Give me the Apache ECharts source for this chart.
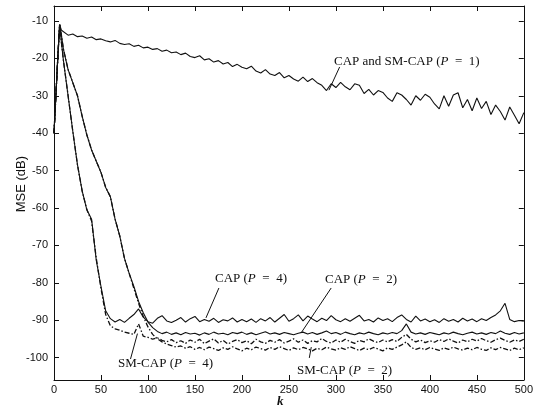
<!DOCTYPE html>
<html>
<head>
<meta charset="utf-8">
<script src="https://cdn.jsdelivr.net/npm/echarts@6/dist/echarts.min.js"></script>
<style>
html,body{margin:0;padding:0;background:#fff;}
#c{width:536px;height:408px;}
</style>
</head>
<body>
<div id="c"></div>
<script>
// Iteration index k (sample positions)
const kValues = [0,2,4,6,8,
10,15,20,25,30,35,40,45,50,55,60,65,70,75,80,85,90,95,100,
105,110,115,120,125,130,135,140,145,150,155,160,165,170,175,180,185,190,195,200,
205,210,215,220,225,230,235,240,245,250,255,260,265,270,275,280,285,290,295,300,
305,310,315,320,325,330,335,340,345,350,355,360,365,370,375,380,385,390,395,400,
405,410,415,420,425,430,435,440,445,450,455,460,465,470,475,480,485,490,495,500];

// CAP and SM-CAP (P = 1)
const mseP1 = [-40,-30,-20,-11,-12.5,
-13,-13.8,-13.5,-14.2,-14,-14.6,-14.3,-15,-14.8,-15.3,-15.6,-15.2,-16,-16.3,-16.1,-16.8,-16.5,-17.2,-17,
-17.6,-17.4,-18.1,-17.8,-18.5,-18.3,-19,-18.6,-19.5,-19.8,-19.3,-20.4,-20.1,-21,-20.6,-21.5,-21.1,-22.2,-21.6,-22.4,
-22.8,-22.1,-23.4,-23.9,-23,-24.2,-24.6,-23.8,-25.2,-24.6,-25.5,-26.1,-25,-26.2,-25.4,-26.5,-27.2,-28.6,-26.8,-27.8,
-26.4,-27.6,-28.4,-26.8,-27.2,-29.4,-28.3,-29.8,-28.6,-29.1,-30.6,-31.5,-29.2,-29.8,-31,-32.5,-30,-31.2,-29.6,-30.4,
-32.2,-33.5,-30,-32.8,-29.8,-29.2,-33.2,-31,-34,-30.6,-33.4,-31.5,-35,-32.5,-34.2,-36.5,-33,-35.2,-37.5,-34.5];

// CAP (P = 4)
const mseCapP4 = [-40,-30,-20,-11,-16,
-20.5,-30,-39.5,-48.5,-55.5,-60.5,-63,-74,-81,-87.5,-89.6,-90.5,-89.8,-90.6,-89.5,-88.5,-87,-89.2,-90.4,
-90.8,-89.5,-88.8,-90.2,-90.6,-90,-89.3,-90.5,-89.6,-89,-90.4,-89.8,-90.3,-89.5,-90.6,-89.9,-90.2,-89.4,-90.5,-89.8,
-90.4,-89.7,-90.6,-89.6,-90.2,-89.3,-90.5,-89.5,-88.5,-90.3,-89.6,-88.6,-90.2,-88.9,-89.7,-90.4,-89.5,-90.1,-88.8,-89.9,
-90.4,-89.6,-90.3,-89.5,-88.7,-90.2,-89.8,-90.5,-89.4,-90.1,-89.6,-90.4,-89.3,-88.6,-89.8,-90.5,-88.9,-90.2,-89.7,-90.4,
-89.9,-90.6,-89.6,-90.3,-89.8,-90.5,-89.5,-90.2,-89.7,-90.4,-89.6,-90.1,-89.3,-88.6,-87.5,-85.5,-89.8,-90.4,-90.1,-90.3];

// SM-CAP (P = 4)
const mseSmP4 = [-40,-30,-20,-11,-16,
-20.5,-30,-39.5,-48.5,-55.5,-60.5,-63.5,-73.5,-81.5,-88.5,-91.5,-92.3,-92.7,-93.2,-93.5,-93.8,-91,-94.3,-94.6,
-95.1,-94.7,-95.4,-95.8,-95.2,-96,-95.5,-96.2,-95.3,-95.9,-95.1,-96.3,-95.6,-95,-96.1,-95.4,-96.4,-95.7,-95.2,-96,
-95.5,-96.3,-95.1,-95.8,-96.2,-95.4,-95.9,-95.2,-96.1,-95.6,-95,-95.9,-95.3,-96.2,-95.5,-95.8,-94.9,-95.7,-96.1,-95.3,
-95.9,-95.1,-95.7,-96.2,-95.4,-95.8,-95,-95.6,-96,-95.3,-95.8,-95.2,-95.7,-94.6,-93.8,-95.1,-95.8,-95.3,-96,-95.5,
-95.9,-95.2,-95.7,-95,-95.6,-96.1,-95.3,-95.8,-95.1,-95.6,-94.9,-95.5,-95.9,-95.2,-94.8,-95.4,-95.9,-95.3,-95.7,-95.1];

// CAP (P = 2)
const mseCapP2 = [-40,-30,-20,-11,-14,
-17.5,-23,-26.5,-30,-35.5,-40.5,-44.5,-47.5,-50.5,-54.5,-57,-63,-67.5,-73.5,-77.5,-81,-85,-88,-90.5,
-92,-93,-93.6,-93.2,-93.8,-93.4,-93.9,-93.3,-93.7,-93.5,-94,-93.4,-93.8,-93.2,-93.7,-93.5,-93.9,-93.3,-93.6,-93.2,
-93.8,-93.4,-93.9,-93.5,-93.1,-93.7,-93.4,-93.8,-93.3,-93.6,-93.9,-93.5,-93.2,-93.7,-93.3,-93.8,-93.4,-92.9,-93.6,-93.3,
-93.8,-93.2,-93.6,-93.9,-93.4,-93.7,-93.2,-93.6,-93.9,-93.4,-93.7,-93.3,-93.6,-92.8,-91,-93.2,-93.7,-93.4,-93.8,-93.3,
-93.6,-93.9,-93.4,-93.7,-93.2,-93.6,-93.9,-93.5,-93.2,-93.7,-93.4,-93.8,-93.3,-93.6,-92.9,-93.5,-93.8,-93.3,-93.7,-93.4];

// SM-CAP (P = 2)
const mseSmP2 = [-40,-30,-20,-11,-14,
-17.5,-23,-26.5,-30,-35.5,-40.5,-44.5,-47.5,-50.5,-54.5,-57,-63,-67.5,-73.5,-77.5,-81.5,-85.5,-89,-91.8,
-93.8,-95,-95.8,-96.4,-96.8,-97.2,-96.9,-97.5,-97.1,-97.8,-97.3,-97.9,-97.2,-97.6,-98.1,-97.4,-97.8,-97.1,-97.7,-98.2,
-97.5,-97.9,-97.2,-97.6,-98,-97.3,-97.8,-97.1,-97.6,-98.1,-97.4,-97.9,-97.3,-97.7,-98.2,-97.5,-97.9,-97.2,-97.7,-98,
-97.4,-97.8,-97.1,-97.6,-98.1,-97.5,-97.9,-97.3,-97.7,-98.2,-97.4,-97.8,-97.2,-96.6,-95.8,-97.3,-97.8,-97.4,-97.9,-97.3,
-97.7,-98.1,-97.4,-97.8,-97.2,-97.7,-98,-97.5,-97.9,-97.3,-97.8,-98.1,-97.4,-97.9,-97.3,-97.7,-98.1,-97.5,-97.9,-97.4];

// Axis ticks
const xTicks = [0,50,100,150,200,250,300,350,400,450,500];
const yTicks = [-100,-90,-80,-70,-60,-50,-40,-30,-20,-10];

// Annotation leader lines in data coordinates [k, dB] -> [k, dB]
const leaders = [
  [[304,-22.3],[292.6,-28.5]],
  [[175.5,-81.4],[161.7,-89.4]],
  [[295,-81.4],[263,-93.4]],
  [[81.4,-100.4],[88.8,-93.6]],
  [[271.7,-100.1],[273.8,-97.2]]
];

function pairs(vals){ return kValues.map((k,i)=>[k, vals[i]]); }

const chart = echarts.init(document.getElementById('c'), null, {renderer:'canvas'});
const sans = '"Liberation Sans", Arial, sans-serif';
const serif = '"Liberation Serif", "Times New Roman", serif';
const black = '#111';

function lineSeries(name, vals, dash, w){
  return {
    name, type:'line', data:pairs(vals), showSymbol:false, symbol:'none',
    lineStyle:{color:black, width:w, type:dash},
    animation:false, z: dash==='solid'?3:2
  };
}

const series = [
  lineSeries('SM-CAP (P = 2)', mseSmP2, [5,2,1.5,2], 1.3),
  lineSeries('SM-CAP (P = 4)', mseSmP4, [5,2,1.5,2], 1.3),
  lineSeries('CAP (P = 2)', mseCapP2, 'solid', 1.1),
  lineSeries('CAP (P = 4)', mseCapP4, 'solid', 1.1),
  lineSeries('CAP and SM-CAP (P = 1)', mseP1, 'solid', 1.1)
];
series[4].markLine = {
  silent:true, symbol:['none','none'], animation:false,
  lineStyle:{color:black, width:1, type:'solid'}, label:{show:false},
  data: leaders.map(l=>[{coord:l[0]},{coord:l[1]}])
};

const tickSet = new Set(yTicks);
function yFmt(v){ return tickSet.has(Math.round(v*1000)/1000) ? String(v) : ''; }

const axisCommon = {
  axisLine:{show:true, onZero:false, lineStyle:{color:black, width:1}},
  axisTick:{show:true, inside:true, length:5, lineStyle:{color:black, width:1}},
  splitLine:{show:false}
};

function richTxt(pre, post){ return pre + '{i|P}' + post; }
const rich = {
  i:{fontStyle:'italic', fontFamily:serif, fontSize:13, fill:black}
};
function annot(left, top, pre, post){
  return {type:'text', left, top, silent:true,
    style:{text:richTxt(pre,post), fontFamily:serif, fontSize:13, fill:black, rich}};
}
const EQ = '\u2002=\u2002';

chart.setOption({
  animation:false,
  backgroundColor:'#fff',
  grid:{left:54, right:9, top:6, bottom:28, containLabel:false},
  xAxis:[
    Object.assign({type:'value', position:'bottom', min:0, max:500, interval:50,
      axisLabel:{show:true, margin:4, fontFamily:sans, fontSize:11, color:black,
        customValues: xTicks}}, axisCommon),
    Object.assign({type:'value', position:'top', min:0, max:500, interval:50,
      axisLabel:{show:false}}, axisCommon)
  ],
  yAxis:[
    Object.assign({type:'value', position:'left', min:-106, max:-6, splitNumber:10,
      axisLabel:{show:true, margin:6, fontFamily:sans, fontSize:11, color:black, formatter:yFmt}}, axisCommon),
    Object.assign({type:'value', position:'right', min:-106, max:-6, splitNumber:10,
      axisLabel:{show:false}}, axisCommon)
  ],
  series,
  graphic:[
    annot(334, 55, 'CAP and SM-CAP (', EQ + '1)'),
    annot(215, 272, 'CAP (', EQ + '4)'),
    annot(325, 273, 'CAP (', EQ + '2)'),
    annot(118, 357, 'SM-CAP (', EQ + '4)'),
    annot(297, 364, 'SM-CAP (', EQ + '2)'),
    {type:'text', left:15, top:156, rotation:Math.PI/2, silent:true,
      style:{text:'MSE (dB)', fontFamily:sans, fontSize:13, fill:black}},
    {type:'text', left:277, top:395, silent:true,
      style:{text:'k', fontFamily:serif, fontSize:13, fontStyle:'italic', fontWeight:'bold', fill:black}}
  ]
});
</script>
</body>
</html>
